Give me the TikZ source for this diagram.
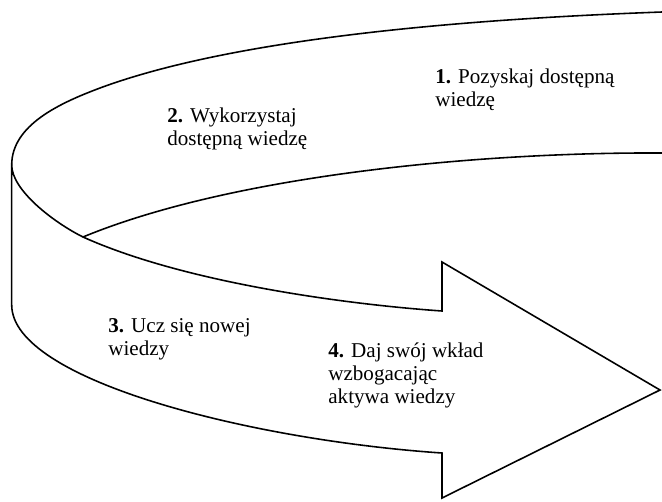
\documentclass[tikz,border=0pt]{standalone}
\usepackage{fontspec}
\setmainfont{Liberation Serif}
\usepackage{tikz}

\tikzset{
	wstega/.style={black, line width=0.9pt, line join=miter},
	krok/.style={anchor=base west, inner sep=0pt, align=left, font=\fontsize{12}{13}\selectfont}
}

\begin{document}
\begin{tikzpicture}[x=0.02cm,y=-0.02cm]
	\useasboundingbox (0,0) rectangle (662,501);
	% tylna czesc wstegi
	\draw[wstega] (11.7,165) .. controls (11.7,125) and (60,103) .. (100,88) .. controls (250,32.5) and (512,17.5) .. (662,12);
	\draw[wstega] (83,237) .. controls (233,175) and (480,152) .. (662,153);
	% przednia czesc ze strzalka
	\draw[wstega] (11.7,165) .. controls (11.7,190) and (53,222) .. (83,237) .. controls (183,282) and (342,304) .. (442,311) -- (442,262) -- (660,390) -- (442,498) -- (442,453) .. controls (250,440) and (11.7,380) .. (11.7,305) -- cycle;
	
	% punkt bazowy = linia bazowa ostatniego wiersza
	\node[krok] (pozyskaj) at (435,106) {\textbf{1.} Pozyskaj dostępną\\wiedzę};
	\node[krok] (wykorzystaj) at (167,145) {\textbf{2.} Wykorzystaj\\dostępną wiedzę};
	\node[krok] (ucz) at (108,355) {\textbf{3.} Ucz się nowej\\wiedzy};
	\node[krok] (wklad) at (328,403) {\textbf{4.} Daj swój wkład\\wzbogacając\\aktywa wiedzy};
\end{tikzpicture}
\end{document}
